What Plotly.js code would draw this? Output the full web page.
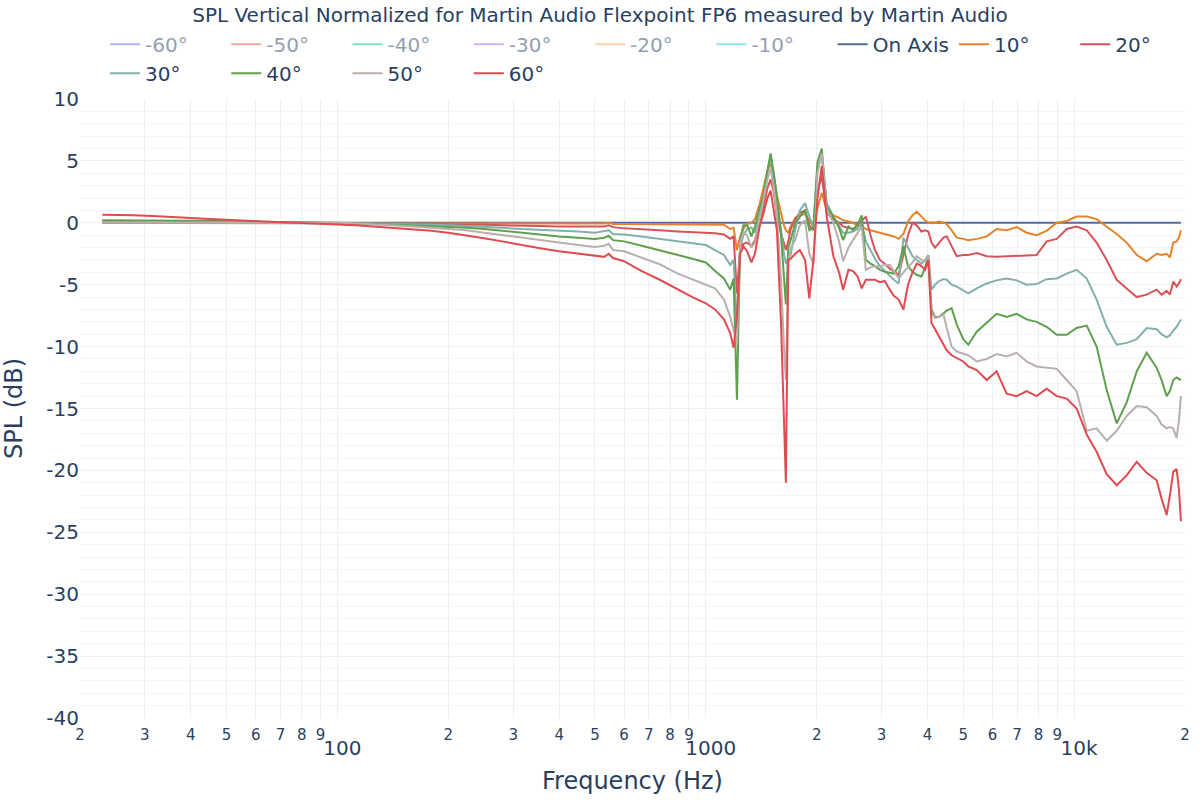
<!DOCTYPE html>
<html>
<head>
<meta charset="utf-8">
<script src="https://cdn.plot.ly/plotly-3.0.1.min.js"></script>
<style>html,body{margin:0;padding:0;background:#fff;}#chart{width:1200px;height:800px;}</style>
</head>
<body>
<div id="chart"></div>
<script>
// Frequencies (Hz)
const freq = [
  23, 25, 28, 31.5, 35.5, 40, 45, 50, 56, 63, 71, 80, 90, 100, 112, 125, 140, 160, 180, 200, 224, 250, 280, 315, 355, 400, 450, 500, 530, 545, 560, 600, 670, 750, 840, 920, 1000,
  1060, 1120, 1165, 1190, 1215, 1240, 1265, 1295, 1330, 1360, 1400, 1435, 1470, 1500, 1530, 1560, 1600, 1630, 1650, 1675, 1700, 1750, 1800, 1860, 1910, 1960, 2010, 2065, 2130, 2220, 2300, 2360, 2440, 2510, 2580, 2650, 2720, 2800, 2880, 2970,
  3060, 3160, 3240, 3340, 3440, 3540, 3640, 3740, 3850, 3940, 4020, 4100, 4190, 4300, 4420, 4510, 4650, 4800, 5000,
  5160, 5440, 5790, 6160, 6560, 6980, 7430, 7910, 8420, 8970, 9550, 10160, 10820, 11510, 12260, 13050, 13890, 14790, 15740, 16750, 17280, 17830, 18200, 18590, 18980, 19250, 19500
];

const splOnAxis = [
  0,0,0,0,0, 0,0,0,0,0, 0,0,0,0,0, 0,0,0,0,0, 0,0,0,0,0, 0,0,0,0,0, 0,0,0,0,0, 0,0,
  0,0,0,0,0, 0,0,0,0,0, 0,0,0,0,0, 0,0,0,0,0, 0,0,0,0,0, 0,0,0,0,0, 0,0,0,0,0, 0,0,0,0,0,
  0,0,0,0,0, 0,0,0,0,0, 0,0,0,0,0, 0,0,0,0,
  0,0,0,0,0, 0,0,0,0,0, 0,0,0,0,0, 0,0,0,0,0, 0,0,0,0,0, 0,0
];
const spl10 = [
  0.05,0.05,0.05,0.05,0.05, 0.05,0.05,0.05,0,0, 0,0,0,0,-0.05, -0.05,-0.05,-0.05,-0.05,-0.05, -0.05,-0.05,-0.1,-0.1,-0.1, -0.1,-0.1,-0.1,-0.05,0, -0.1,-0.1,-0.1,-0.1,-0.1, -0.1,-0.1,
  -0.1,-0.15,-0.5,-0.4,-2.2, -1.1,-0.5,-0.1,0.0,0.3, 1.5,2.8,4.2,4.8,3.8, 2.2,0.8,-0.2,-0.6,-0.8, -0.3,0.4,0.6,0.7,0.2, -0.3,1.2,2.4,1.0,0.6, 0.4,0.2,0.1,0.0,-0.2, -0.3,-0.5,-0.6,-0.7,-0.8,
  -0.9,-1.0,-1.1,-1.3,-0.9, 0.1,0.6,0.9,0.5,0.2, 0.0,0.05,0.0,0.1,0.0, -0.1,-0.6,-1.2,-1.3,
  -1.4,-1.3,-1.1,-0.5,-0.6, -0.35,-0.8,-1.0,-0.65,0.0, 0.15,0.5,0.5,0.3,-0.3, -0.9,-1.6,-2.6,-3.1,-2.5, -2.6,-2.5,-2.8,-1.6,-1.5, -1.2,-0.6
];
const spl20 = [
  0.1,0.1,0.1,0.1,0.1, 0.1,0.1,0.05,0.05,0.05, 0,0,0,-0.05,-0.05, -0.05,-0.1,-0.1,-0.1,-0.1, -0.15,-0.15,-0.2,-0.2,-0.25, -0.3,-0.3,-0.35,-0.3,-0.2, -0.35,-0.45,-0.5,-0.6,-0.7, -0.75,-0.8,
  -0.85,-0.95,-1.3,-1.1,-5.7, -2.0,-1.7,-1.6,-1.9,-1.4, 0.0,1.3,2.8,3.5,2.5, 0.5,-0.8,-1.8,-2.2,-1.5, -0.5,0.3,0.8,1.0,-0.2, -0.6,2.5,3.8,0.8,0.3, 0.0,-0.3,-0.4,-0.5,-0.2, 0.2,0.5,-1.0,-2.2,-3.0,
  -3.3,-3.7,-3.9,-4.2,-2.6, -1.0,0.0,-0.2,-0.7,-0.6, -0.7,-1.6,-2.0,-1.6,-1.2, -1.1,-1.9,-2.7,-2.6,
  -2.6,-2.45,-2.7,-2.75,-2.7, -2.7,-2.65,-2.6,-1.5,-1.3, -0.5,-0.3,-0.6,-1.6,-3.0, -4.6,-5.3,-6.0,-5.8,-5.4, -5.8,-5.5,-5.8,-4.75,-5.15, -4.9,-4.55
];
const spl30 = [
  0,0,0,0,0, 0,0,0,0,0, 0,0,0,0,-0.05, -0.05,-0.1,-0.1,-0.15,-0.2, -0.25,-0.3,-0.4,-0.5,-0.55, -0.65,-0.7,-0.8,-0.7,-0.6, -0.9,-0.95,-1.1,-1.3,-1.5, -1.65,-1.8,
  -2.2,-2.6,-3.4,-3.0,-8.5, -2.0,-1.0,-0.5,-0.4,-0.8, 0.5,2.2,4.2,5.4,3.5, 1.8,-0.5,-2.5,-3.3,-2.8, -2.6,-0.5,1.0,1.6,0.5, -0.3,4.5,5.4,1.6,0.5, -0.3,-0.8,-0.8,-0.7,-0.5, 0.0,-1.5,-2.2,-2.9,-3.5,
  -3.9,-4.3,-4.6,-4.9,-1.2, -2.0,-2.7,-3.0,-3.3,-3.0, -2.6,-5.4,-5.0,-4.7,-4.55, -4.6,-5.0,-5.15,-5.5,
  -5.7,-5.3,-4.9,-4.65,-4.5, -4.65,-5.0,-4.95,-4.55,-4.5, -4.1,-3.8,-4.5,-6.2,-8.4, -9.85,-9.7,-9.4,-8.5,-8.6, -9.0,-9.25,-9.1,-8.7,-8.4, -8.1,-7.8
];
const spl40 = [
  0.2,0.2,0.2,0.2,0.15, 0.15,0.15,0.15,0.1,0.1, 0.05,0.05,0,0,-0.05, -0.1,-0.15,-0.2,-0.25,-0.3, -0.4,-0.5,-0.65,-0.8,-0.95, -1.1,-1.2,-1.3,-1.2,-1.05, -1.4,-1.5,-1.85,-2.25,-2.6, -2.9,-3.2,
  -3.9,-4.5,-5.4,-4.5,-14.3, -1.4,-0.2,-0.2,-1.1,-0.3, 1.2,2.2,4.2,5.6,4.0, 2.1,-1.0,-4.5,-6.6,-2.0, -1.4,0.0,0.5,1.05,-0.6, -0.4,4.9,6.0,1.3,0.5, -0.4,-1.4,-0.3,-0.6,-0.2, 0.6,-3.0,-3.3,-3.5,-3.8,
  -3.95,-4.05,-4.1,-3.5,-1.9, -3.5,-3.95,-4.2,-4.35,-3.6, -2.7,-7.0,-7.6,-7.6,-7.3, -7.1,-6.9,-8.2,-9.4,
  -9.85,-8.8,-8.1,-7.35,-7.6, -7.35,-7.8,-8.0,-8.4,-9.05, -9.05,-8.5,-8.3,-10.0,-13.5, -16.2,-14.5,-12.0,-10.5,-11.7, -12.7,-14.0,-13.6,-12.7,-12.5, -12.6,-12.7
];
const spl50 = [
  0.05,0.05,0.05,0.05,0.05, 0.05,0.05,0.05,0.05,0.05, 0,0,0,0,-0.05, -0.1,-0.2,-0.3,-0.4,-0.5, -0.6,-0.8,-1.0,-1.2,-1.4, -1.6,-1.8,-1.95,-1.85,-1.7, -2.2,-2.3,-2.8,-3.35,-4.1, -4.6,-5.0,
  -5.3,-6.2,-7.6,-8.6,-9.7, -1.6,-0.8,-1.0,-2.0,-1.6, 0.3,1.9,3.5,4.4,2.8, 0.5,-4.5,-10.0,-12.7,-3.3, -2.0,-1.4,-0.2,0.2,-2.5, -3.3,4.0,5.6,1.1,0.0, -1.5,-3.1,-2.0,-1.4,-0.8, -0.3,-3.8,-3.6,-3.5,-3.5,
  -3.4,-3.4,-3.9,-4.5,-4.0, -3.6,-3.2,-2.7,-3.0,-3.1, -2.7,-7.2,-7.7,-7.6,-7.4, -8.5,-10.0,-10.4,-10.6,
  -10.7,-11.2,-11.0,-10.6,-10.8, -10.5,-11.2,-11.6,-11.7,-11.8, -12.7,-13.6,-16.8,-16.6,-17.6, -16.8,-15.6,-14.8,-14.9,-15.6, -16.3,-16.6,-16.5,-16.6,-17.4, -16.0,-14.0
];
const spl60 = [
  0.65,0.65,0.6,0.55,0.45, 0.35,0.3,0.25,0.15,0.1, 0.05,0,-0.05,-0.1,-0.2, -0.3,-0.4,-0.55,-0.65,-0.8, -1.0,-1.25,-1.5,-1.8,-2.05, -2.3,-2.5,-2.7,-2.75,-2.5, -2.85,-3.1,-3.9,-4.6,-5.4, -6.0,-6.5,
  -7.0,-7.8,-8.9,-10.1,-7.6, -2.5,-1.9,-2.3,-3.2,-2.5, -0.3,0.8,2.0,2.6,1.0, -0.6,-8.0,-16.0,-21.0,-3.0, -2.9,-2.5,-2.2,-3.0,-6.1, -3.0,2.0,4.6,0.5,-2.7, -4.0,-5.4,-3.8,-3.9,-4.3, -5.3,-4.6,-4.6,-4.6,-4.8,
  -4.7,-5.4,-5.9,-6.2,-7.0, -5.0,-4.0,-3.3,-3.5,-3.8, -3.0,-8.1,-8.6,-9.2,-9.8, -10.3,-10.7,-10.9,-11.2,
  -11.6,-11.9,-12.7,-12.0,-13.8, -14.0,-13.6,-14.0,-13.4,-14.0, -14.2,-15.0,-17.1,-18.5,-20.3, -21.2,-20.4,-19.3,-20.2,-20.8, -22.3,-23.6,-22.0,-20.1,-19.9, -21.5,-24.1
];

// Hidden (legend-only) series: no visible data in the reference
const hiddenFreq = [1000];
const hiddenSpl = [null];
const hiddenNames = ['-60°', '-50°', '-40°', '-30°', '-20°', '-10°'];
const hiddenColors = ['#636efa', '#EF553B', '#00cc96', '#ab63fa', '#FFA15A', '#19d3f3'];
const shownNames = ['On Axis', '10°', '20°', '30°', '40°', '50°', '60°'];
const shownColors = ['#55699e', '#e5832a', '#d65459', '#82b0ab', '#5fa04e', '#b9b0ac', '#e04a50'];
const shownValues = [splOnAxis, spl10, spl20, spl30, spl40, spl50, spl60];

const yTickVals = [10, 5, 0, -5, -10, -15, -20, -25, -30, -35, -40];
const yTickText = ['10', '5', '0', '-5', '-10', '-15', '-20', '-25', '-30', '-35', '-40'];

const traces = [];
hiddenNames.forEach((n, i) => traces.push({
  type: 'scatter', mode: 'lines', name: n, x: hiddenFreq, y: hiddenSpl,
  visible: 'legendonly', line: {color: hiddenColors[i], width: 2}
}));
shownNames.forEach((n, i) => traces.push({
  type: 'scatter', mode: 'lines', name: n, x: freq, y: shownValues[i],
  line: {color: shownColors[i], width: 2}
}));

const layout = {
  width: 1200, height: 800,
  font: {family: 'Verdana, "DejaVu Sans", sans-serif', color: '#2a3f5f'},
  paper_bgcolor: '#ffffff', plot_bgcolor: '#ffffff',
  title: {text: 'SPL Vertical Normalized for Martin Audio Flexpoint FP6 measured by Martin Audio',
          font: {size: 20}, x: 0.5, xref: 'container', xanchor: 'center', y: 0.981, yref: 'container', yanchor: 'middle'},
  margin: {l: 80, r: 15, t: 99, b: 82},
  showlegend: true,
  legend: {orientation: 'h', x: 0.0226, xanchor: 'left', y: 1.12, yanchor: 'top', font: {size: 20}, bgcolor: 'rgba(0,0,0,0)'},
  xaxis: {
    type: 'log', range: [Math.log10(20), Math.log10(20000)], dtick: 'D1',
    gridcolor: '#EBF0F8', zeroline: false, showline: false, ticks: '',
    tickfont: {size: 20}, ticklabelstandoff: 6,
    title: {text: 'Frequency (Hz)', font: {size: 24}, standoff: 13}
  },
  yaxis: {
    range: [-40, 10], tickvals: yTickVals, ticktext: yTickText, tickmode: 'array',
    gridcolor: '#EBF0F8', zeroline: false, showline: false, ticks: '',
    minor: {dtick: 1, showgrid: true, gridcolor: '#F2F5FA'},
    tickfont: {size: 20},
    title: {text: 'SPL (dB)', font: {size: 24}}
  }
};

Plotly.newPlot('chart', traces, layout, {displayModeBar: false});
</script>
</body>
</html>
